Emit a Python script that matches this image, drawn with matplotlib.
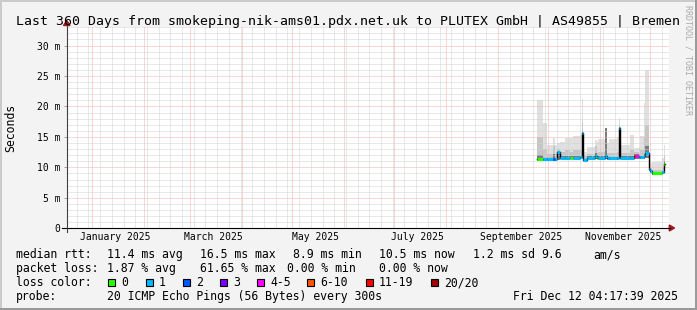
import matplotlib
matplotlib.use('Agg')
import matplotlib.pyplot as plt
import matplotlib.dates as mdates
from matplotlib.lines import Line2D
from matplotlib.patches import Rectangle, Polygon
import pandas as pd

W, H = 697, 310
MONO = 'DejaVu Sans Mono'

graph_start = '2024-12-17 04:17:39'
graph_end = '2025-12-12 04:17:39'

# step segments of the median / smoke (start of each step)
seg_start = ['2025-09-24 12:00', '2025-09-28', '2025-09-30', '2025-10-04', '2025-10-05',
             '2025-10-06', '2025-10-08', '2025-10-11', '2025-10-14', '2025-10-16',
             '2025-10-20', '2025-10-21', '2025-10-22', '2025-10-24', '2025-10-29',
             '2025-10-30', '2025-10-31', '2025-11-04', '2025-11-05', '2025-11-06',
             '2025-11-11', '2025-11-12', '2025-11-13', '2025-11-19', '2025-11-21',
             '2025-11-22', '2025-11-24', '2025-11-25', '2025-11-27', '2025-11-28',
             '2025-11-30', '2025-12-01', '2025-12-02', '2025-12-08', '2025-12-09']
seg_end = '2025-12-09 18:00'

median_ms = [11.4, 11.3, 11.3, 11.3, 11.3, 12.5, 11.6, 11.6, 11.6, 11.6,
             11.7, 15.6, 11.2, 11.6, 11.9, 11.6, 11.6, 11.8, 11.5, 11.5,
             11.5, 16.5, 11.6, 11.6, 11.8, 11.8, 11.7, 11.7, 11.8, 12.3,
             9.8, 9.4, 9.0, 9.2, 10.5]
loss_pings = [0, 1, 1, 2, 1, 1, 1, 1, 0, 1,
              1, 1, 1, 1, 1, 0, 1, 1, 1, 1,
              1, 1, 1, 1, 15, 4, 1, 1, 1, 1,
              1, 1, 0, 1, 0]
smoke_min = [11.0, 11.0, 11.0, 11.0, 11.0, 11.2, 11.3, 11.3, 11.3, 11.3,
             11.4, 11.5, 11.0, 11.3, 11.4, 11.3, 11.3, 11.4, 11.2, 11.2,
             11.2, 11.4, 11.3, 11.3, 11.4, 11.4, 11.4, 11.4, 11.4, 11.5,
             9.4, 9.0, 8.7, 8.9, 9.2]
smoke_dark = [12.0, 11.5, 11.5, 12.2, 11.5, 12.7, 11.8, 11.8, 11.8, 11.8,
              11.9, 16.0, 11.4, 11.8, 12.4, 11.8, 11.8, 16.4, 11.7, 11.7,
              11.7, 16.7, 11.8, 11.8, 12.2, 12.2, 11.9, 11.9, 12.2, 13.5,
              10.0, 9.6, 9.2, 9.4, 11.0]
smoke_mid = [15.0, 13.0, 12.2, 13.5, 12.2, 13.0, 12.5, 12.8, 12.6, 12.8,
             12.8, 17.5, 11.8, 12.2, 13.5, 12.3, 12.5, 16.0, 12.3, 12.4,
             12.6, 17.0, 12.3, 12.8, 12.6, 12.6, 12.3, 12.8, 15.0, 17.0,
             10.2, 9.9, 9.5, 10.0, 11.8]
smoke_max = [21.0, 17.3, 13.7, 14.8, 13.6, 14.0, 14.2, 14.8, 14.8, 15.1,
             15.4, 21.2, 12.6, 13.4, 14.5, 14.2, 14.6, 16.4, 14.0, 14.6,
             15.0, 18.1, 13.6, 15.3, 13.2, 13.2, 13.4, 15.1, 20.5, 26.0,
             11.0, 10.8, 10.9, 11.5, 13.7]

loss_labels = ['0', '1', '2', '3', '4-5', '6-10', '11-19', '20/20']
loss_colors = ['#26ff00', '#00b8ff', '#0059ff', '#7e00ff', '#ff00ff', '#ff5500', '#ff0000', '#a10000']
loss_upper = [0, 1, 2, 3, 5, 10, 19, 20]

y_ticks = [0, 5, 10, 15, 20, 25, 30]
month_labels = ['2025-01-15', '2025-03-15', '2025-05-15', '2025-07-15', '2025-09-15', '2025-11-15']

stats_rtt = ['11.4 ms avg', '16.5 ms max', '8.9 ms min', '10.5 ms now', '1.2 ms sd', '9.6', 'am/s']
stats_loss = ['1.87 % avg', '61.65 % max', '0.00 % min', '0.00 % now']
probe_text = '20 ICMP Echo Pings (56 Bytes) every 300s'
stamp_text = 'Fri Dec 12 04:17:39 2025'
title = 'Last 360 Days from smokeping-nik-ams01.pdx.net.uk to PLUTEX GmbH | AS49855 | Bremen'


def fx(px):
    return px / W


def fy(py):
    return 1 - py / H


def loss_color(n):
    for up, c in zip(loss_upper, loss_colors):
        if n <= up:
            return c
    return loss_colors[-1]


fig = plt.figure(figsize=(W / 100, H / 100), dpi=100, facecolor='#f3f3f3')
ax = fig.add_axes([fx(67), fy(228.3), fx(669) - fx(67), fy(27) - fy(228.3)])
ax.set_facecolor('white')
t0 = mdates.date2num(pd.Timestamp(graph_start))
t1 = mdates.date2num(pd.Timestamp(graph_end))
ax.set_xlim(t0, t1)
ax.set_ylim(0, 33.05)
for s in ax.spines.values():
    s.set_visible(False)

# grid (rrdtool draws it over the smoke)
dot = (0, (1, 1))
gkw = dict(lw=0.72, ls=dot, zorder=2)
minor_c, major_c = '#d2d2d2', '#f6b0b0'
for v in range(1, 34):
    ax.axhline(v, color=major_c if v % 5 == 0 else minor_c, **gkw)
for d in pd.date_range('2024-12-23', graph_end, freq='W-MON'):
    if d.day != 1:
        ax.axvline(mdates.date2num(d), color=minor_c, **gkw)
for d in pd.date_range('2025-01-01', graph_end, freq='MS'):
    ax.axvline(mdates.date2num(d), color=major_c, **gkw)

# smoke + median
xs = [mdates.date2num(pd.Timestamp(s)) for s in seg_start] + [mdates.date2num(pd.Timestamp(seg_end))]
ext = lambda a: list(a) + [a[-1]]
ax.fill_between(xs, ext(smoke_min), ext(smoke_max), step='post', color='#e0e0e0', lw=0, zorder=1)
ax.fill_between(xs, ext(smoke_min), ext(smoke_mid), step='post', color='#c6c6c6', lw=0, zorder=1)
ax.fill_between(xs, ext(smoke_min), ext(smoke_dark), step='post', color='#7c7c7c', lw=0, zorder=1)
ax.step(xs, ext(median_ms), where='post', color='black', lw=1.0, zorder=3)
for i in range(len(median_ms)):
    ax.hlines(median_ms[i], xs[i], xs[i + 1], colors=loss_color(loss_pings[i]), lw=2.2, zorder=4)

# ticks
ax.set_yticks(y_ticks)
ax.set_yticklabels(['0' if v == 0 else '%d m' % v for v in y_ticks], family=MONO, fontsize=7)
ax.tick_params(axis='y', length=2.5, width=0.7, color='#a0a0a0', pad=2.4)
ax.set_xticks([mdates.date2num(pd.Timestamp(m)) for m in month_labels])
ax.set_xticklabels([pd.Timestamp(m).strftime('%B %Y') for m in month_labels], family=MONO, fontsize=7)
ax.tick_params(axis='x', length=0, pad=3.0)

# axes lines and arrows
fig.add_artist(Line2D([fx(62), fx(670)], [fy(228.3), fy(228.3)], color='black', lw=0.8))
fig.add_artist(Line2D([fx(66.7), fx(66.7)], [fy(232), fy(24)], color='#404040', lw=0.8))
fig.add_artist(Polygon([(fx(669.3), fy(225)), (fx(669.3), fy(231)), (fx(674.5), fy(228))],
                       closed=True, color='#a01818'))
fig.add_artist(Polygon([(fx(63.5), fy(25.5)), (fx(70), fy(25.5)), (fx(66.7), fy(20.5))],
                       closed=True, color='#a01818'))

# frame shading
fig.add_artist(Rectangle((0, fy(2)), 1, fy(0) - fy(2), color='#cbcbcb', lw=0))
fig.add_artist(Rectangle((0, 0), fx(2), 1, color='#cbcbcb', lw=0))
fig.add_artist(Rectangle((0, 0), 1, fy(307.5), color='#9a9a9a', lw=0))
fig.add_artist(Rectangle((fx(694.5), 0), 1, 1, color='#9a9a9a', lw=0))

# texts
fig.text(fx(16), fy(24.5), title, family=MONO, fontsize=9.55, va='baseline', ha='left')
fig.text(fx(11), fy(128), 'Seconds', family=MONO, fontsize=8.3, rotation=90, va='center', ha='center')
fig.text(fx(688), fy(5), 'RRDTOOL / TOBI OETIKER', family=MONO, fontsize=6, rotation=270,
         va='top', ha='center', color='#aaaaaa')

rtt_x = [107.3, 200, 293.3, 379.3, 472.7, 541, 593.3]
fig.text(fx(16), fy(258.3), 'median rtt:', family=MONO, fontsize=8.3, va='baseline')
for x, s in zip(rtt_x, stats_rtt):
    fig.text(fx(x), fy(258.3), s, family=MONO, fontsize=8.3, va='baseline')

loss_x = [107.3, 200, 287.3, 379.3]
fig.text(fx(16), fy(272.3), 'packet loss:', family=MONO, fontsize=8.3, va='baseline')
for x, s in zip(loss_x, stats_loss):
    fig.text(fx(x), fy(272.3), s, family=MONO, fontsize=8.3, va='baseline')

box_x = [108.3, 145.7, 183, 220.3, 257.3, 306.7, 365.7, 431]
fig.text(fx(16), fy(286.3), 'loss color:', family=MONO, fontsize=8.3, va='baseline')
for x, lab, c in zip(box_x, loss_labels, loss_colors):
    fig.add_artist(Rectangle((fx(x), fy(285.7)), fx(7), fy(278.5) - fy(285.7),
                             facecolor=c, edgecolor='black', lw=0.8))
    fig.text(fx(x + 13.4), fy(286.3), lab, family=MONO, fontsize=8.3, va='baseline')

fig.text(fx(16), fy(300.3), 'probe:', family=MONO, fontsize=8.3, va='baseline')
fig.text(fx(107.3), fy(300.3), probe_text, family=MONO, fontsize=8.3, va='baseline')
fig.text(fx(513.3), fy(300.3), stamp_text, family=MONO, fontsize=8.3, va='baseline')

fig.savefig('out.png', dpi=100, facecolor=fig.get_facecolor())
